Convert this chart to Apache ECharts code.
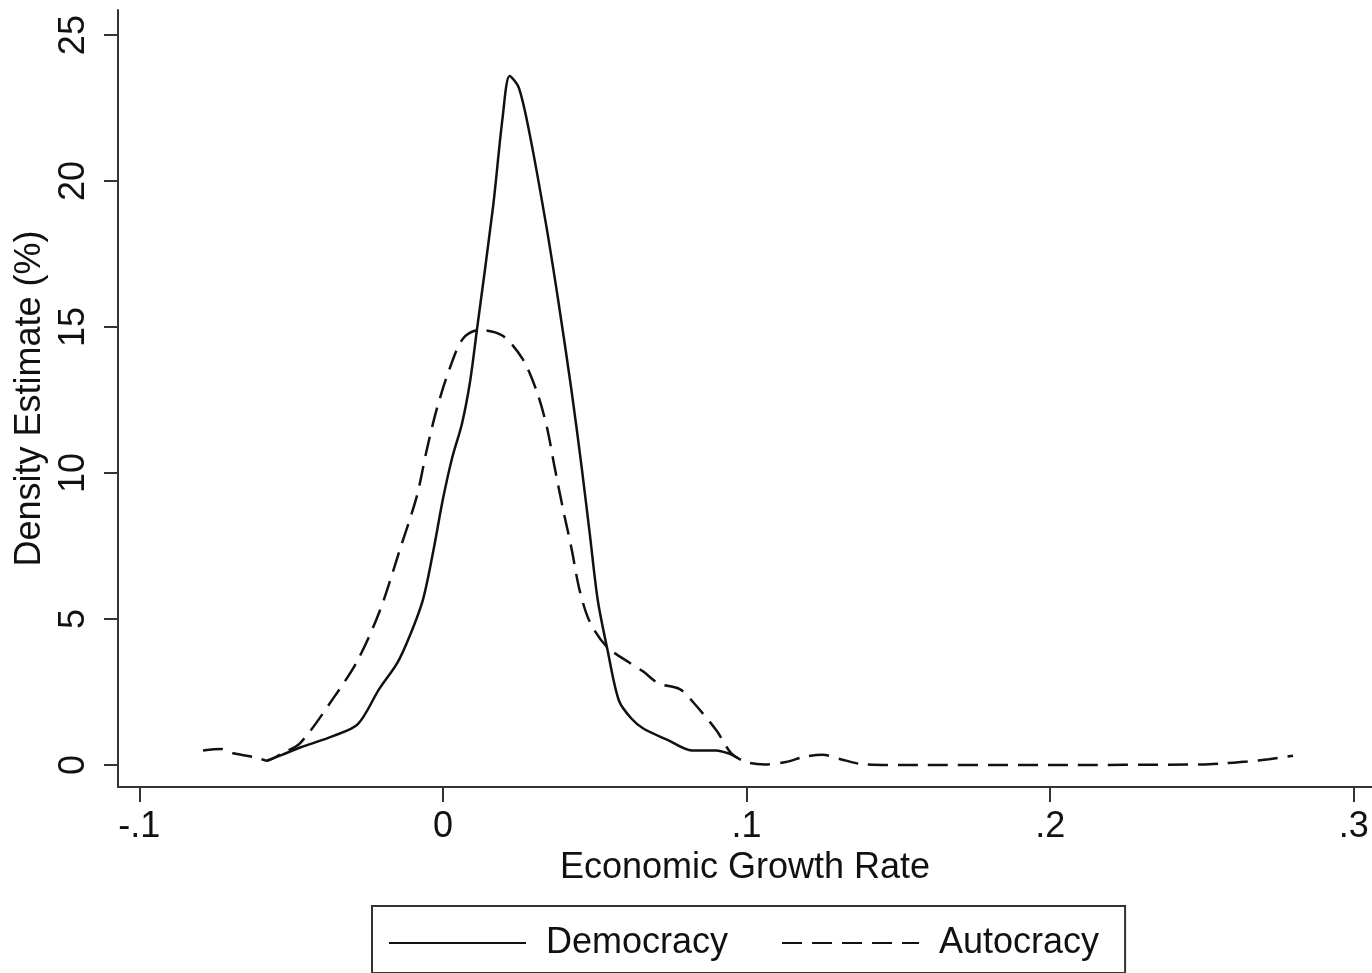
<!DOCTYPE html>
<html>
<head>
<meta charset="utf-8">
<script src="https://cdn.jsdelivr.net/npm/echarts@6/dist/echarts.min.js"></script>
<style>
  html, body { margin: 0; padding: 0; background: #fff; }
  #chart { width: 1372px; height: 973px; }
</style>
</head>
<body>
<div id="chart"></div>
<script>
// kernel density, democracy (solid)
const demX = [-0.058, -0.053, -0.047, -0.036, -0.028, -0.021, -0.015, -0.011, -0.0066, -0.0033, 0.0, 0.003, 0.0063, 0.0089, 0.0112, 0.0165, 0.0197, 0.022, 0.025, 0.0286, 0.034, 0.038, 0.0424, 0.0457, 0.0484, 0.051, 0.0543, 0.058, 0.062, 0.066, 0.074, 0.082, 0.09, 0.094, 0.097];
const demY = [0.15, 0.35, 0.6, 1.0, 1.4, 2.6, 3.5, 4.4, 5.65, 7.25, 9.1, 10.5, 11.7, 13.1, 14.9, 19.1, 22.2, 23.6, 23.2, 21.6, 18.5, 15.9, 12.8, 10.2, 7.9, 5.65, 3.9, 2.2, 1.6, 1.25, 0.86, 0.5, 0.5, 0.4, 0.25];

// autocracy (dashed)
const autX = [-0.079, -0.073, -0.069, -0.061, -0.058, -0.053, -0.047, -0.036, -0.028, -0.0207, -0.0141, -0.0086, -0.0053, -0.002, 0.0023, 0.0066, 0.012, 0.0197, 0.0263, 0.0309, 0.0342, 0.0368, 0.0395, 0.0424, 0.045, 0.0484, 0.054, 0.0615, 0.066, 0.071, 0.078, 0.082, 0.09, 0.095, 0.1, 0.106, 0.113, 0.119, 0.125, 0.131, 0.138, 0.15, 0.2, 0.25, 0.256, 0.265, 0.272, 0.28];
const autY = [0.5, 0.55, 0.4, 0.25, 0.15, 0.4, 0.75, 2.3, 3.6, 5.3, 7.4, 9.2, 10.8, 12.2, 13.6, 14.6, 14.9, 14.7, 13.9, 12.8, 11.6, 10.2, 8.8, 7.4, 6.0, 4.9, 4.05, 3.5, 3.2, 2.8, 2.6, 2.2, 1.2, 0.4, 0.1, 0.02, 0.1, 0.28, 0.35, 0.2, 0.03, 0.0, 0.0, 0.02, 0.05, 0.12, 0.2, 0.32];

const xTicks = [-0.1, 0, 0.1, 0.2, 0.3];
const yTicks = [0, 5, 10, 15, 20, 25];

const font = 'Liberation Sans, Arial, sans-serif';
const ink = '#111';

function pairs(xs, ys) {
  return xs.map((x, i) => [x, ys[i]]);
}

// stata style labels: -.1 0 .1
function fmtX(v) {
  if (Math.abs(v) < 1e-9) return '0';
  return v.toFixed(1).replace('0.', '.');
}

let myChart = echarts.init(document.getElementById('chart'));
myChart.setOption({
  animation: false,
  backgroundColor: '#fff',
  textStyle: { fontFamily: font },
  grid: { left: 118, right: 0, top: 10, bottom: 186 },
  legend: {
    left: 372,
    top: 906,
    padding: [17, 26, 10, 16],
    borderColor: '#333',
    borderWidth: 2,
    itemWidth: 137,
    itemHeight: 20,
    itemGap: 53,
    itemStyle: { opacity: 0 },
    textStyle: { fontFamily: font, fontSize: 36, color: ink, lineHeight: 40, padding: [0, 0, 0, 15] },
    data: ['Democracy', 'Autocracy']
  },
  xAxis: {
    type: 'value',
    min: -0.107,
    max: 0.306,
    name: 'Economic Growth Rate',
    nameLocation: 'middle',
    nameGap: 60,
    nameTextStyle: { fontFamily: font, fontSize: 36, color: ink },
    splitLine: { show: false },
    axisLine: { onZero: false, lineStyle: { color: '#333', width: 2 } },
    axisTick: { customValues: xTicks, length: 15, lineStyle: { color: '#333', width: 2 } },
    axisLabel: { customValues: xTicks, formatter: fmtX, margin: 22, fontSize: 36, color: ink, fontFamily: font }
  },
  yAxis: {
    type: 'value',
    min: -0.753,
    max: 25.86,
    name: 'Density Estimate (%)',
    nameLocation: 'middle',
    nameGap: 63,
    nameTextStyle: { fontFamily: font, fontSize: 36, color: ink },
    splitLine: { show: false },
    axisLine: { show: true, onZero: false, lineStyle: { color: '#333', width: 2 } },
    axisTick: { show: true, customValues: yTicks, length: 14, lineStyle: { color: '#333', width: 2 } },
    axisLabel: { customValues: yTicks, rotate: 90, margin: 26, fontSize: 36, color: ink, fontFamily: font }
  },
  series: [
    {
      name: 'Democracy',
      type: 'line',
      symbol: 'none',
      smooth: 0.3,
      lineStyle: { color: ink, width: 2.5, type: 'solid' },
      itemStyle: { color: ink },
      data: pairs(demX, demY)
    },
    {
      name: 'Autocracy',
      type: 'line',
      symbol: 'none',
      smooth: 0.3,
      lineStyle: { color: ink, width: 2.5, type: [20, 10] },
      itemStyle: { color: ink },
      data: pairs(autX, autY)
    }
  ]
});
</script>
</body>
</html>
